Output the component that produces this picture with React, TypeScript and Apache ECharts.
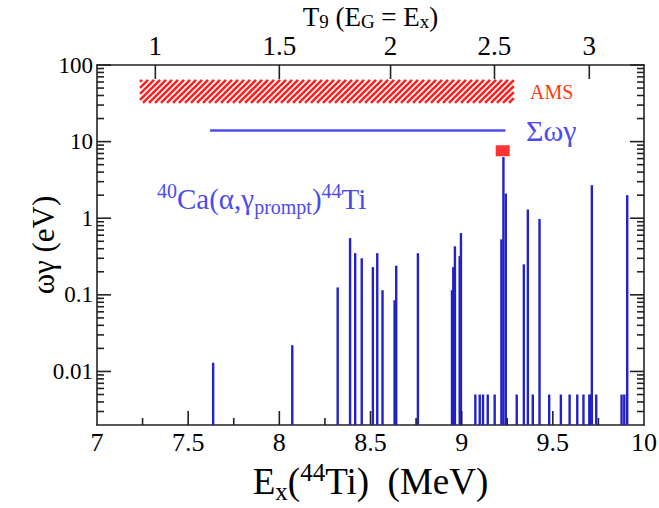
import React, { useEffect, useRef } from 'react';
import * as echarts from 'echarts';

// Resonance energies (MeV) and strengths (eV)
const resonanceEnergy = [
  7.637, 8.071, 8.32, 8.388, 8.416, 8.452, 8.513, 8.537, 8.566, 8.632, 8.641, 8.76,
  8.947, 8.954, 8.963, 8.989, 8.996, 9.075, 9.099, 9.117, 9.143, 9.181, 9.218, 9.229,
  9.242, 9.302, 9.341, 9.363, 9.39, 9.427, 9.48, 9.544, 9.592, 9.634, 9.668, 9.7,
  9.709, 9.714, 9.738, 9.877, 9.892, 9.908,
];
const resonanceStrength = [
  0.013, 0.022, 0.125, 0.55, 0.35, 0.3, 0.23, 0.35, 0.115, 0.085, 0.24, 0.35,
  0.115, 0.23, 0.43, 0.32, 0.64, 0.005, 0.005, 0.005, 0.005, 0.005, 0.53, 6.3,
  2.1, 0.005, 0.25, 1.3, 0.005, 0.98, 0.005, 0.005, 0.005, 0.005, 0.005, 0.005,
  0.005, 2.7, 0.005, 0.005, 0.005, 2.0,
];

// Measured point (red square)
const measuredEnergy = [9.225];
const measuredStrength = [7.6];

// Sum of strengths line
const sumEnergyRange = [7.62, 9.24];
const sumStrength = 14;

// AMS band
const amsEnergyRange = [7.236, 9.286];
const amsStrengthRange = [32, 64];

// Axes
const xMin = 7;
const xMax = 10;
const yMin = 0.002;
const yMax = 100;
const xMajorTicks = [7.5, 8, 8.5, 9, 9.5];
const xMinorTicks = [7.25, 7.75, 8.25, 8.75, 9.25, 9.75];
const yMajorTicks = [0.01, 0.1, 1, 10, 100];
const yDecades = [0.001, 0.01, 0.1, 1, 10];
const yMantissas = [2, 3, 4, 5, 6, 7, 8, 9];
const t9Labels = ['1', '1.5', '2', '2.5', '3'];
const t9Positions = [7.32, 8.0, 8.61, 9.18, 9.7];

const SERIF = 'Liberation Serif, Times New Roman, Times, DejaVu Serif, serif';
const BAR_COLOR = '#2222c8';
const LIGHT_BLUE = '#4b4bf0';
const AXIS_COLOR = '#222';
const MAJOR_LEN = 14;
const MINOR_LEN = 7;
const TICK_W = 1.6;

export default function App() {
  const ref = useRef<HTMLDivElement>(null);

  useEffect(() => {
    document.body.style.margin = '0';
    if (!ref.current) return;
    const chart = echarts.init(ref.current, undefined, { renderer: 'svg' });

    const yMinorTicks = yDecades
      .flatMap((d) => yMantissas.map((m) => +(m * d).toPrecision(3)))
      .filter((v) => v > yMin && v < yMax);

    const axisLine = { show: true, lineStyle: { color: AXIS_COLOR, width: 1.6 } };
    const labelFmt = (v: number) => String(+v.toPrecision(3));

    const yAxisBase = {
      type: 'log' as const,
      min: yMin,
      max: yMax,
      logBase: 10,
      splitLine: { show: false },
      minorTick: { show: false },
      minorSplitLine: { show: false },
    };

    const amsData = [[amsEnergyRange[0], amsStrengthRange[0], amsEnergyRange[1], amsStrengthRange[1]]];

    const textGraphics: any[] = [
      {
        type: 'text',
        left: 530,
        top: 82,
        z: 20,
        style: { text: 'AMS', fontFamily: SERIF, fontSize: 20, fill: '#ff3a10' },
      },
      {
        type: 'text',
        left: 526,
        top: 115,
        z: 20,
        style: { text: 'Σωγ', fontFamily: SERIF, fontSize: 30, fill: LIGHT_BLUE },
      },
      {
        type: 'text',
        left: 157,
        top: 181,
        z: 20,
        style: {
          text: '{sup|40}{m|Ca(α,γ}{sub|prompt}{m|)}{sup|44}{m|Ti}',
          rich: {
            m: { fontFamily: SERIF, fontSize: 29, fill: LIGHT_BLUE, lineHeight: 36, verticalAlign: 'middle' },
            sup: { fontFamily: SERIF, fontSize: 20, fill: LIGHT_BLUE, lineHeight: 18, verticalAlign: 'top' },
            sub: { fontFamily: SERIF, fontSize: 20, fill: LIGHT_BLUE, lineHeight: 16, verticalAlign: 'bottom' },
          },
        },
      },
    ];

    const option: any = {
      animation: false,
      backgroundColor: '#fff',
      textStyle: { fontFamily: SERIF },
      grid: {
        left: 97,
        right: 15,
        top: 65,
        bottom: 83,
        containLabel: false,
        outerBoundsMode: 'none',
      },
      xAxis: [
        {
          type: 'value',
          min: xMin,
          max: xMax,
          interval: 0.5,
          position: 'bottom',
          axisLine,
          axisTick: { show: false },
          splitLine: { show: false },
          axisLabel: {
            margin: 4,
            fontFamily: SERIF,
            fontSize: 26,
            color: '#000',
            formatter: labelFmt,
          },
          name: '{m|E}{sub|x}{m|(}{sup|44}{m|Ti)  (MeV)}',
          nameLocation: 'middle',
          nameGap: 30,
          nameTextStyle: {
            fontFamily: SERIF,
            rich: {
              m: { fontFamily: SERIF, fontSize: 37, color: '#000', lineHeight: 44, verticalAlign: 'middle' },
              sub: { fontFamily: SERIF, fontSize: 25, color: '#000', lineHeight: 16, verticalAlign: 'bottom' },
              sup: { fontFamily: SERIF, fontSize: 25, color: '#000', lineHeight: 24, verticalAlign: 'top' },
            },
          },
        },
        {
          type: 'value',
          min: xMin,
          max: xMax,
          position: 'top',
          axisLine,
          axisTick: { show: false },
          splitLine: { show: false },
          axisLabel: {
            margin: 6,
            fontFamily: SERIF,
            fontSize: 27,
            color: '#000',
            customValues: t9Positions,
            formatter: (v: number) => {
              const i = t9Positions.findIndex((p) => Math.abs(p - v) < 1e-6);
              return i >= 0 ? t9Labels[i] : '';
            },
          },
          name: '{m|T}{sub|9}{m| (E}{sub|G}{m| = E}{sub|x}{m|)}',
          nameLocation: 'middle',
          nameGap: 34,
          nameMoveOverlap: false,
          nameTextStyle: {
            fontFamily: SERIF,
            rich: {
              m: { fontFamily: SERIF, fontSize: 27, color: '#000', lineHeight: 28, verticalAlign: 'middle' },
              sub: { fontFamily: SERIF, fontSize: 19, color: '#000', lineHeight: 10, verticalAlign: 'bottom' },
            },
          },
        },
      ],
      yAxis: [
        {
          ...yAxisBase,
          position: 'left',
          axisLine,
          axisTick: { show: false },
          axisLabel: {
            margin: 4,
            fontFamily: SERIF,
            fontSize: 23,
            color: '#000',
            customValues: yMajorTicks,
            formatter: labelFmt,
          },
          name: 'ωγ (eV)',
          nameLocation: 'middle',
          nameRotate: 90,
          nameGap: 38,
          nameMoveOverlap: false,
          nameTextStyle: { fontFamily: SERIF, fontSize: 31, color: '#000' },
        },
        {
          ...yAxisBase,
          position: 'right',
          offset: 0,
          axisLine,
          axisTick: { show: false },
          axisLabel: { show: false },
        },
      ],
      series: [
        {
          type: 'custom',
          name: 'AMS',
          xAxisIndex: 0,
          yAxisIndex: 0,
          dimensions: ['x0', 'y0', 'x1', 'y1'],
          encode: { x: [0, 2], y: [1, 3] },
          data: amsData,
          renderItem: (params: any, api: any) => {
            const row = amsData[params.dataIndex];
            const p0 = api.coord([row[0], row[3]]);
            const p1 = api.coord([row[2], row[1]]);
            const L = p0[0], T = p0[1], R = p1[0], B = p1[1];
            const children: any[] = [];
            const period = 6;
            for (let c = L + T + 2; c <= R + B; c += period) {
              const xs = Math.max(L, c - B);
              const xe = Math.min(R, c - T);
              if (xe > xs) {
                children.push({
                  type: 'line',
                  shape: { x1: xs, y1: c - xs, x2: xe, y2: c - xe },
                  style: { stroke: '#ff1f1f', lineWidth: 2.6 },
                });
              }
            }
            return { type: 'group', children };
          },
        },
        {
          type: 'line',
          name: 'sum',
          xAxisIndex: 0,
          yAxisIndex: 0,
          data: [
            [sumEnergyRange[0], sumStrength],
            [sumEnergyRange[1], sumStrength],
          ],
          symbol: 'none',
          lineStyle: { color: LIGHT_BLUE, width: 2.5 },
        },
        {
          type: 'custom',
          name: 'resonances',
          xAxisIndex: 0,
          yAxisIndex: 0,
          encode: { x: 0, y: 1 },
          data: resonanceEnergy.map((e, i) => [e, resonanceStrength[i]]),
          renderItem: (params: any, api: any) => {
            const x = api.value(0);
            const v = api.value(1);
            const top = api.coord([x, v]);
            const base = api.coord([x, yMin]);
            return {
              type: 'line',
              shape: { x1: top[0], y1: top[1], x2: base[0], y2: base[1] },
              style: { stroke: BAR_COLOR, lineWidth: 2.4 },
            };
          },
        },
        {
          type: 'scatter',
          name: 'measured',
          xAxisIndex: 0,
          yAxisIndex: 0,
          data: measuredEnergy.map((e, i) => [e, measuredStrength[i]]),
          symbol: 'rect',
          symbolSize: [14, 11],
          itemStyle: { color: '#ff0000' },
        },
      ],
      graphic: { elements: textGraphics },
    };

    chart.setOption(option);

    // Axis ticks placed through the chart's own scales, drawn as thin filled rects
    const px = (v: number) => Number(chart.convertToPixel({ xAxisIndex: 0 }, v));
    const py = (v: number) => Number(chart.convertToPixel({ yAxisIndex: 0 }, v));
    const xl = px(xMin);
    const xr = px(xMax);
    const yb = py(yMin);
    const yt = py(yMax);
    const tickRect = (x: number, y: number, width: number, height: number) => ({
      type: 'rect',
      silent: true,
      z: 15,
      shape: { x, y, width, height },
      style: { fill: AXIS_COLOR },
    });
    const vTick = (x: number, yFrom: number, len: number) =>
      tickRect(x - TICK_W / 2, len > 0 ? yFrom : yFrom + len, TICK_W, Math.abs(len));
    const hTick = (y: number, xFrom: number, len: number) =>
      tickRect(len > 0 ? xFrom : xFrom + len, y - TICK_W / 2, Math.abs(len), TICK_W);

    const ticks: any[] = [];
    xMajorTicks.forEach((v) => ticks.push(vTick(px(v), yb, -MAJOR_LEN)));
    xMinorTicks.forEach((v) => ticks.push(vTick(px(v), yb, -MINOR_LEN)));
    t9Positions.forEach((v) => ticks.push(vTick(px(v), yt, MAJOR_LEN)));
    yMajorTicks.forEach((v) => {
      ticks.push(hTick(py(v), xl, MAJOR_LEN));
      ticks.push(hTick(py(v), xr, -MAJOR_LEN));
    });
    yMinorTicks.forEach((v) => {
      ticks.push(hTick(py(v), xl, MINOR_LEN));
      ticks.push(hTick(py(v), xr, -MINOR_LEN));
    });

    chart.setOption({ graphic: { elements: [...textGraphics, ...ticks] } });

    return () => chart.dispose();
  }, []);

  return <div ref={ref} style={{ width: 659, height: 508 }} />;
}
